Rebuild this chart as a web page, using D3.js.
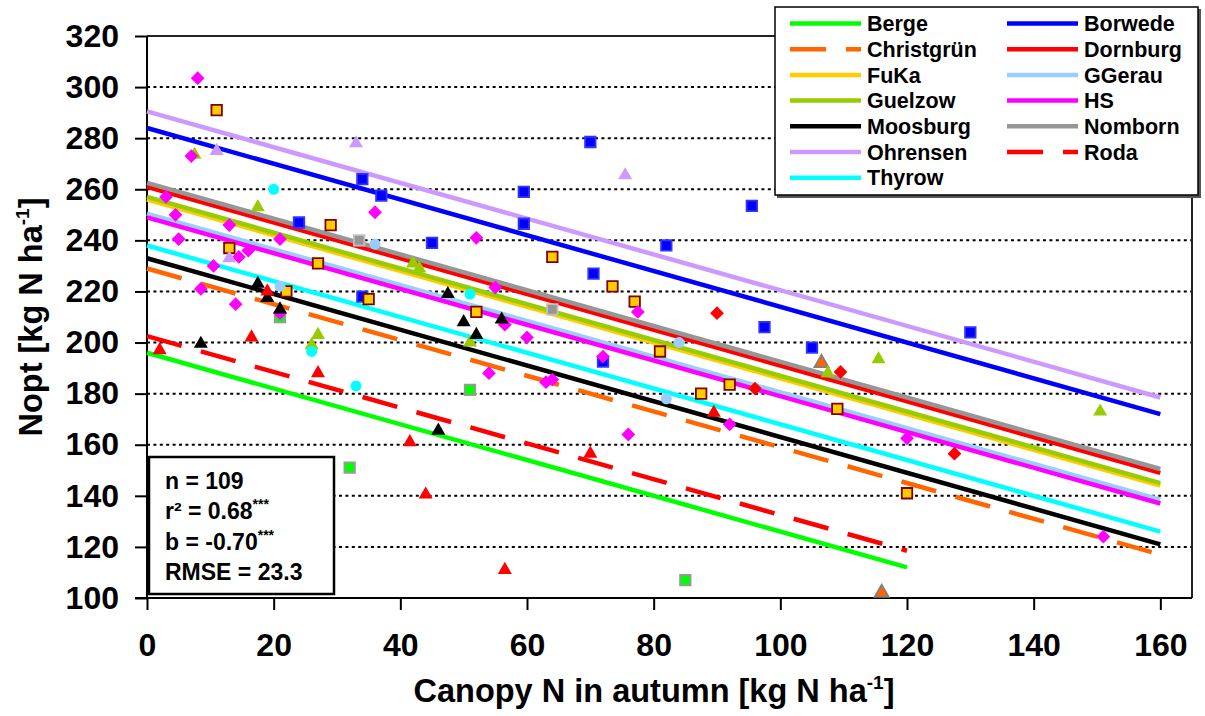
<!DOCTYPE html>
<html lang="en">
<head>
<meta charset="UTF-8">
<title>Nopt vs canopy N</title>
<script src="https://cdnjs.cloudflare.com/ajax/libs/d3/7.8.5/d3.min.js"></script>
<style>
    body { margin: 0; background: #fff; }
    svg text { font-family: "Liberation Sans", Arial, sans-serif; font-weight: bold; fill: #000; }
    .grid line { stroke: #000; stroke-width: 2; stroke-dasharray: 3, 3.4; }
</style>
</head>
<body>
<div id="chart"></div>
<script>
    // sites, in legend order
    const sites = ["Berge", "Borwede", "Christgrün", "Dornburg", "FuKa", "GGerau", "Guelzow",
        "HS", "Moosburg", "Nomborn", "Ohrensen", "Roda", "Thyrow"];

    // fitted lines: common slope, intercept per site, last x of each line
    const slope = -0.70;
    const intercepts = [196, 284, 229, 261, 256, 250.5, 257, 249, 233, 262.5, 290.5, 202.5, 238];
    const lineEnd = [120, 160, 160, 160, 160, 160, 160, 160, 160, 160, 160, 120, 160];

    // observations [canopy N, Nopt]
    const berge = [[21, 210], [51, 181.5], [32, 151], [85, 107]];
    const borwede = [[34, 264], [37, 257.5], [24, 247], [70, 278.5], [59.5, 259], [59.5, 246.5], [45, 239],
        [82, 238], [70.5, 227], [34, 218], [72, 192.5], [95.5, 253.5], [97.5, 206], [130, 204], [105, 198]];
    const christgruen = [[106.5, 192], [116, 102]];
    const dornburg = [[90, 211.5], [109.5, 188.5], [96, 182], [127.5, 156.5]];
    const fuka = [[11, 291], [29, 246], [13, 237], [27, 231], [22, 220], [35, 217], [64, 233.5], [73.5, 222],
        [77, 216], [52, 212], [81, 196.5], [92, 183.5], [87.5, 180], [109, 174], [120, 141]];
    const ggerau = [[36, 238.5], [21, 222], [84, 200], [82, 178]];
    const guelzow = [[7.5, 273.5], [17.5, 253], [27, 203], [26, 199], [42, 231], [43, 229], [51, 200],
        [107.5, 188], [115.5, 193.5], [150.5, 173]];
    const hs = [[8, 303.5], [7, 273], [36, 251], [3, 257], [4.5, 250], [13, 246], [21, 240.5], [5, 240.5],
        [14.5, 233.5], [16, 236], [10.5, 230], [8.5, 221], [14, 215], [21, 211.5], [52, 241], [55, 221.5],
        [77.5, 212], [56.5, 207], [60, 202], [72, 194.5], [54, 188], [63, 184.5], [64, 185.5], [76, 164],
        [92, 168], [120, 162.5], [151, 124]];
    const moosburg = [[17.5, 223], [19, 217.5], [21, 213], [8.5, 199.5], [47.5, 219], [50, 208], [56, 209],
        [52, 203], [46, 165.5]];
    const nomborn = [[33.5, 240], [64, 213]];
    const ohrensen = [[33, 278], [11, 275], [13, 233], [75.5, 265.5]];
    const roda = [[19, 220], [16.5, 202], [2, 197], [27, 188], [41.5, 161], [70, 156.5], [44, 140.5],
        [56.5, 111], [89.5, 172.5]];
    const thyrow = [[20, 260], [26, 196.5], [33, 183], [51, 219]];
    const points = [berge, borwede, christgruen, dornburg, fuka, ggerau, guelzow, hs, moosburg,
        nomborn, ohrensen, roda, thyrow];

    const xTicks = [0, 20, 40, 60, 80, 100, 120, 140, 160];
    const yTicks = [100, 120, 140, 160, 180, 200, 220, 240, 260, 280, 300, 320];
    const stats = ["n = 109", "r² = 0.68", "b = -0.70", "RMSE = 23.3"];
    const statStars = ["", "***", "***", ""];

    // look of each site
    const look = {
        "Berge":      { line: "#00ff00", sym: "square", fill: "#00ff00", stroke: "#999" },
        "Borwede":    { line: "#0000ff", sym: "square", fill: "#0000ff", stroke: "#3333ff" },
        "Christgrün": { line: "#ff6600", dash: true, sym: "triangle", fill: "#ff6600", stroke: "#808080" },
        "Dornburg":   { line: "#ff0000", sym: "diamond", fill: "#ff0000", stroke: "none" },
        "FuKa":       { line: "#ffcc00", sym: "square", fill: "#ffcc00", stroke: "#800000" },
        "GGerau":     { line: "#99ccff", sym: "circle", fill: "#99ccff", stroke: "none" },
        "Guelzow":    { line: "#99cc00", sym: "triangle", fill: "#99cc00", stroke: "none" },
        "HS":         { line: "#ff00ff", sym: "diamond", fill: "#ff00ff", stroke: "none" },
        "Moosburg":   { line: "#000000", sym: "triangle", fill: "#000000", stroke: "none" },
        "Nomborn":    { line: "#969696", sym: "square", fill: "#969696", stroke: "#c0c0c0" },
        "Ohrensen":   { line: "#cc99ff", sym: "triangle", fill: "#cc99ff", stroke: "none" },
        "Roda":       { line: "#ff0000", dash: true, sym: "triangle", fill: "#ff0000", stroke: "none" },
        "Thyrow":     { line: "#00ffff", sym: "circle", fill: "#00ffff", stroke: "none" }
    };

    const width = 1205, height = 716;
    const svg = d3.select("#chart").append("svg")
        .attr("width", width)
        .attr("height", height);

    const x = d3.scaleLinear().domain([0, 165]).range([147, 1192]);
    const y = d3.scaleLinear().domain([100, 320]).range([598, 36]);

    // dotted gridlines
    svg.append("g").attr("class", "grid")
        .selectAll("line")
        .data(yTicks.filter(v => v > 100 && v < 320))
        .join("line")
        .attr("x1", x(0)).attr("x2", x(165))
        .attr("y1", d => y(d)).attr("y2", d => y(d));

    // frame top / right
    svg.append("path")
        .attr("d", `M${x(0)},${y(320)}H${x(165)}V${y(100)}`)
        .attr("fill", "none")
        .attr("stroke", "#222")
        .attr("stroke-width", 2);

    // axes
    const xAxis = svg.append("g")
        .attr("transform", `translate(0,${y(100)})`)
        .call(d3.axisBottom(x).tickValues(xTicks).tickSize(12).tickPadding(23));
    const yAxis = svg.append("g")
        .attr("transform", `translate(${x(0)},0)`)
        .call(d3.axisLeft(y).tickValues(yTicks).tickSize(12).tickPadding(16));
    [xAxis, yAxis].forEach(g => {
        g.select(".domain").attr("stroke", "#000").attr("stroke-width", 2);
        g.selectAll(".tick line").attr("stroke", "#000").attr("stroke-width", 2);
        g.selectAll("text").style("font-size", "32px")
            .style("font-family", "'Liberation Sans', Arial, sans-serif")
            .style("font-weight", "bold");
    });
    xAxis.select(".domain").attr("d", `M${x(0) - 12},0H${x(165)}`);
    yAxis.select(".domain").attr("d", `M0,${y(320)}V${y(100)}`);

    // regression lines
    const lineGen = d3.line().x(d => x(d[0])).y(d => y(d[1]));
    sites.forEach((s, i) => {
        const st = look[s];
        svg.append("path")
            .attr("d", lineGen([[0, intercepts[i]], [lineEnd[i], intercepts[i] + slope * lineEnd[i]]]))
            .attr("fill", "none")
            .attr("stroke", st.line)
            .attr("stroke-width", 4.5)
            .attr("stroke-dasharray", st.dash ? "36,20" : null);
    });

    // markers
    const symType = { square: d3.symbolSquare, diamond: d3.symbolSquare, triangle: d3.symbolTriangle, circle: d3.symbolCircle };
    const symSize = { square: 110, diamond: 95, triangle: 85, circle: 95 };
    sites.forEach((s, i) => {
        const st = look[s];
        svg.append("g").selectAll("path")
            .data(points[i])
            .join("path")
            .attr("d", d3.symbol(symType[st.sym], symSize[st.sym]))
            .attr("transform", d => `translate(${x(d[0])},${y(d[1])})` + (st.sym === "diamond" ? " rotate(45)" : ""))
            .attr("fill", st.fill)
            .attr("stroke", st.stroke)
            .attr("stroke-width", st.stroke === "none" ? 0 : 1.8);
    });

    // legend
    const legend = svg.append("g");
    legend.append("rect")
        .attr("x", 777).attr("y", 9).attr("width", 424).attr("height", 189)
        .attr("fill", "#555");
    legend.append("rect")
        .attr("x", 775).attr("y", 7).attr("width", 423).attr("height", 188)
        .attr("fill", "#fff").attr("stroke", "#000").attr("stroke-width", 1.5);
    sites.forEach((s, i) => {
        const st = look[s];
        const lx = i % 2 === 0 ? 790 : 1007;
        const ly = 23.5 + Math.floor(i / 2) * 25.7;
        legend.append("line")
            .attr("x1", lx).attr("x2", lx + 71)
            .attr("y1", ly).attr("y2", ly)
            .attr("stroke", st.line)
            .attr("stroke-width", 4.5)
            .attr("stroke-dasharray", st.dash ? "36,20" : null);
        legend.append("text")
            .attr("x", lx + 77).attr("y", ly)
            .attr("dy", "0.36em")
            .style("font-size", "21.5px")
            .text(s);
    });

    // stats box
    svg.append("rect")
        .attr("x", 149).attr("y", 457).attr("width", 185).attr("height", 137)
        .attr("fill", "#fff").attr("stroke", "#000").attr("stroke-width", 2.5);
    stats.forEach((t, i) => {
        const txt = svg.append("text")
            .attr("x", 165).attr("y", 489 + i * 30.3)
            .style("font-size", "23px");
        txt.append("tspan").text(t);
        if (statStars[i]) {
            txt.append("tspan").attr("dy", -10).style("font-size", "14px").text(statStars[i]);
        }
    });

    // axis titles
    const xt = svg.append("text")
        .attr("x", 654).attr("y", 702)
        .attr("text-anchor", "middle")
        .style("font-size", "32.5px");
    xt.append("tspan").text("Canopy N in autumn [kg N ha");
    xt.append("tspan").attr("dy", -13).style("font-size", "19px").text("-1");
    xt.append("tspan").attr("dy", 13).text("]");

    const yt = svg.append("text")
        .attr("transform", "translate(42,317) rotate(-90)")
        .attr("text-anchor", "middle")
        .style("font-size", "32.5px");
    yt.append("tspan").text("Nopt [kg N ha");
    yt.append("tspan").attr("dy", -13).style("font-size", "19px").text("-1");
    yt.append("tspan").attr("dy", 13).text("]");
</script>
</body>
</html>
